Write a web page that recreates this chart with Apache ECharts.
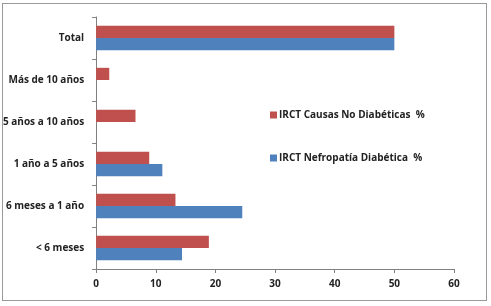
<!DOCTYPE html>
<html>
<head>
<meta charset="utf-8">
<script src="https://cdn.jsdelivr.net/npm/echarts@6/dist/echarts.min.js"></script>
<style>
  html, body { margin: 0; padding: 0; background: #fff; }
  #frame {
    position: absolute; left: 2px; top: 3px; width: 485px; height: 298px;
    border: 1px solid #9a9a9a; box-sizing: border-box;
  }
  #chart { position: absolute; left: 0; top: 0; width: 491px; height: 306px; }
</style>
</head>
<body>
<div id="frame"></div>
<div id="chart"></div>
<script>
// categories, bottom to top
const categorias = ["< 6 meses", "6 meses a 1 año", "1 año a 5 años", "5 años a 10 años", "Más de 10 años", "Total"];
const noDiabeticas = [18.9, 13.3, 8.9, 6.6, 2.2, 50];
const nefropatia = [14.4, 24.5, 11.1, null, null, 50];
const ticksX = [0, 10, 20, 30, 40, 50, 60];

const myChart = echarts.init(document.getElementById("chart"));
const fuente = "'Open Sans', sans-serif";

const option = {
  animation: false,
  grid: { left: 96, right: 37, top: 17, bottom: 37 },
  legend: {
    orient: "vertical",
    left: 265,
    top: 105,
    itemGap: 33,
    itemWidth: 7,
    itemHeight: 7,
    icon: "rect",
    textStyle: { fontFamily: fuente, fontSize: 10, fontWeight: "bold", color: "#222", padding: [0, 0, 0, -3] },
    data: ["IRCT Causas No Diabéticas  %", "IRCT Nefropatía Diabética  %"]
  },
  xAxis: {
    type: "value",
    min: ticksX[0],
    max: ticksX[ticksX.length - 1],
    interval: 10,
    splitLine: { show: false },
    axisLine: { show: true, lineStyle: { color: "#808080" } },
    axisTick: { show: true, length: 4, lineStyle: { color: "#808080" } },
    axisLabel: { fontFamily: fuente, fontSize: 10, fontWeight: "bold", color: "#222", margin: 10 }
  },
  yAxis: {
    type: "category",
    data: categorias,
    axisLine: { show: true, lineStyle: { color: "#808080" } },
    axisTick: { show: true, length: 4, lineStyle: { color: "#808080" } },
    axisLabel: { fontFamily: fuente, fontSize: 10, fontWeight: "bold", color: "#222", margin: 12 }
  },
  series: [
    {
      name: "IRCT Causas No Diabéticas  %",
      type: "bar",
      data: noDiabeticas,
      barGap: "0%",
      barCategoryGap: "42%",
      itemStyle: { color: "#C0504D" }
    },
    {
      name: "IRCT Nefropatía Diabética  %",
      type: "bar",
      data: nefropatia,
      itemStyle: { color: "#4F81BD" }
    }
  ]
};
myChart.setOption(option);
</script>
</body>
</html>
